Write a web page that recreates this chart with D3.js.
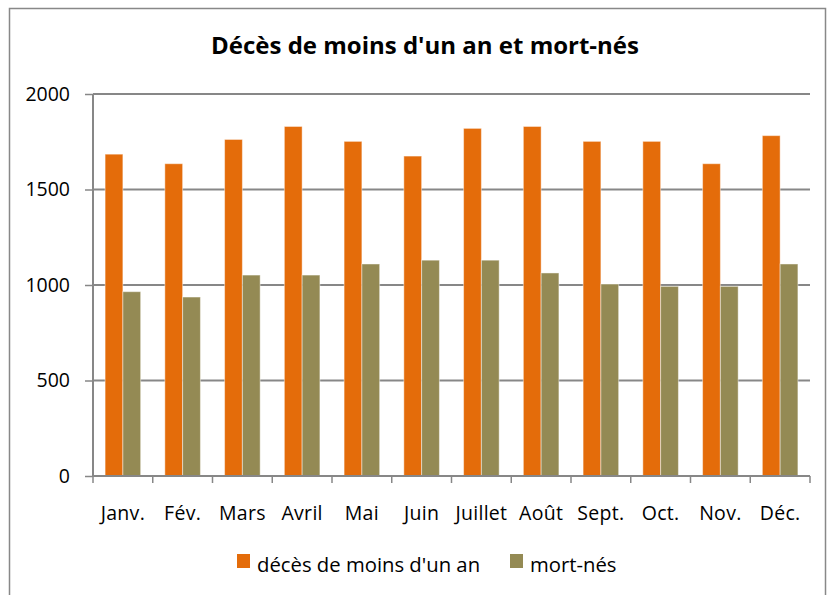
<html>
  <head>
    <script src="https://d3js.org/d3.v7.min.js"></script>
    <style>
      body { margin: 0; background: #fff; }
      text { font-family: "Open Sans", sans-serif; fill: #000; }
    </style>
  </head>
  <body>
    <script>
      // data
      var months = ["Janv.", "Fév.", "Mars", "Avril", "Mai", "Juin", "Juillet", "Août", "Sept.", "Oct.", "Nov.", "Déc."];
      var seriesNames = ["décès de moins d'un an", "mort-nés"];
      var deces = [1685, 1635, 1762, 1830, 1752, 1675, 1820, 1830, 1752, 1752, 1635, 1782];
      var mortNes = [965, 937, 1052, 1052, 1110, 1130, 1130, 1063, 1005, 993, 993, 1110];
      var yTicks = [0, 500, 1000, 1500, 2000];
      var colors = ["#E46C0A", "#948A54"];

      var width = 827, height = 595;
      var plotLeft = 93, plotRight = 810, plotTop = 94, plotBottom = 476;

      var svg = d3.select("body").append("svg")
                  .attr("width", width).attr("height", height);

      // chart border
      svg.append("rect")
         .attr("x", 9.5).attr("y", 8.5)
         .attr("width", 816).attr("height", 600)
         .attr("fill", "none").attr("stroke", "#888").attr("stroke-width", 1.5);

      svg.append("text")
         .attr("x", 425).attr("y", 54)
         .attr("text-anchor", "middle")
         .attr("font-size", "24px").attr("font-weight", "bold")
         .text("Décès de moins d'un an et mort-nés");

      var x = d3.scaleBand().domain(months).range([plotLeft, plotRight]);
      var x1 = d3.scaleBand().domain(seriesNames).range([0, x.bandwidth()]).paddingOuter(0.68);
      var y = d3.scaleLinear().domain([0, 2000]).range([plotBottom, plotTop]);

      // gridlines
      svg.append("g").selectAll("line")
         .data(yTicks.filter(function(d) { return d > 0; }))
         .enter().append("line")
         .attr("x1", plotLeft).attr("x2", plotRight)
         .attr("y1", function(d) { return y(d); }).attr("y2", function(d) { return y(d); })
         .attr("stroke", "#878787").attr("stroke-width", 2);

      // bars
      var rows = months.map(function(m, i) { return { month: m, vals: [deces[i], mortNes[i]] }; });
      var groups = svg.append("g").selectAll("g")
                      .data(rows).enter().append("g")
                      .attr("transform", function(d) { return "translate(" + x(d.month) + ",0)"; });
      groups.selectAll("rect")
            .data(function(d) { return d.vals.map(function(v, j) { return { name: seriesNames[j], v: v, j: j }; }); })
            .enter().append("rect")
            .attr("x", function(d) { return x1(d.name); })
            .attr("width", x1.bandwidth())
            .attr("y", function(d) { return y(d.v); })
            .attr("height", function(d) { return y(0) - y(d.v); })
            .attr("fill", function(d) { return colors[d.j]; })
            .attr("stroke", "rgba(255,255,255,0.45)").attr("stroke-width", 1);

      // y axis
      var yAxis = svg.append("g")
                     .attr("transform", "translate(" + plotLeft + ",0)")
                     .call(d3.axisLeft(y).tickValues(yTicks).tickFormat(d3.format("d")).tickSize(8).tickPadding(15));
      // x axis
      var xAxis = svg.append("g")
                     .attr("transform", "translate(0," + plotBottom + ")")
                     .call(d3.axisBottom(x).tickSize(0).tickPadding(30));
      xAxis.selectAll(".tick")
           .append("line")
           .attr("x1", -x.bandwidth() / 2).attr("x2", -x.bandwidth() / 2)
           .attr("y1", 0).attr("y2", 7);
      xAxis.append("line")
           .attr("class", "endtick")
           .attr("x1", plotRight).attr("x2", plotRight).attr("y1", 0).attr("y2", 7)
           .attr("stroke", "#878787").attr("stroke-width", 1.5);

      [yAxis, xAxis].forEach(function(ax) {
        ax.select(".domain").attr("stroke", "#878787").attr("stroke-width", 2);
        ax.selectAll(".tick line").attr("stroke", "#878787").attr("stroke-width", 1.5);
        ax.selectAll(".tick text").attr("font-size", "19.5px").attr("font-family", "Open Sans").attr("fill", "#000");
      });
      xAxis.select(".domain").attr("d", "M" + plotLeft + ",0H" + plotRight);
      yAxis.select(".domain").attr("d", "M0," + plotBottom + "V" + plotTop);
      xAxis.selectAll(".tick text").attr("letter-spacing", "0.3px");

      // legend
      var legX = [237, 510];
      var leg = svg.append("g").selectAll("g")
                   .data(seriesNames).enter().append("g")
                   .attr("transform", function(d, i) { return "translate(" + legX[i] + ",554)"; });
      leg.append("rect").attr("width", 13).attr("height", 14)
         .attr("fill", function(d, i) { return colors[i]; });
      leg.append("text").attr("x", 20).attr("y", 18)
         .attr("font-size", "20.3px")
         .text(function(d) { return d; });
    </script>
  </body>
</html>
